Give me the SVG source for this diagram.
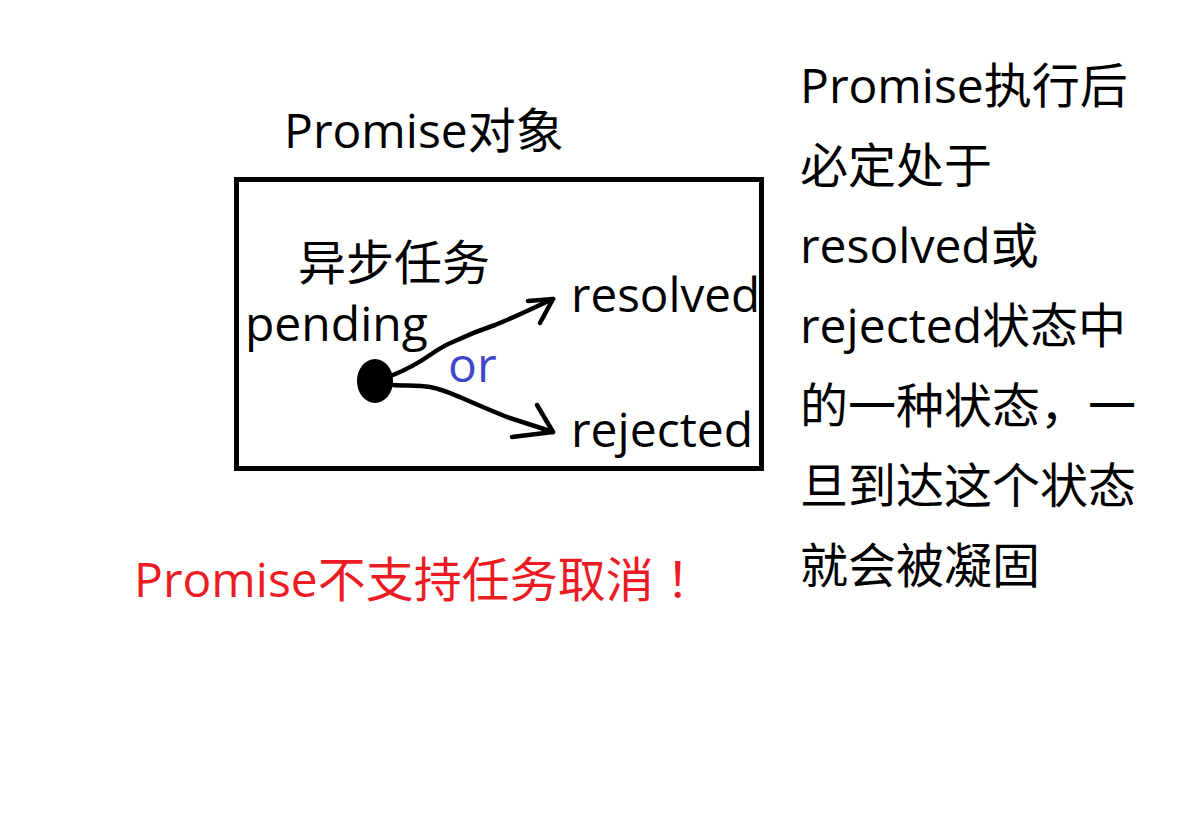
<svg xmlns="http://www.w3.org/2000/svg" width="1201" height="823" viewBox="0 0 1201 823">
<style>
.t{font-family:"Open Sans","Noto Sans CJK SC",sans-serif;font-size:48px;fill:#000}
.fw{font-family:"Noto Sans CJK JP","Noto Sans CJK SC",sans-serif}
.red{fill:#ed1c24}
.blue{fill:#3f48cc}
.ln{fill:none;stroke:#000;stroke-width:4.5;stroke-linecap:round;stroke-linejoin:round}
</style>
<rect width="1201" height="823" fill="#fff"/>
<g id="promise-object">
<text class="t" x="284" y="148">Promise对象</text>
<rect x="236.5" y="179.5" width="525" height="289" fill="none" stroke="#000" stroke-width="5"/>
</g>
<g id="pending">
<text class="t" x="298" y="280">异步任务</text>
<text class="t" x="245" y="341">pending</text>
<ellipse cx="375" cy="381" rx="18" ry="22" fill="#000"/>
</g>
<g id="resolved">
<text class="t" x="571" y="312" textLength="189" lengthAdjust="spacingAndGlyphs">resolved</text>
</g>
<g id="rejected">
<text class="t" x="571" y="447">rejected</text>
</g>
<g id="connectors">
<path class="ln" d="M393,375 C410,368 420,362 430,355 C440,348 445,345 455,341 C470,334 480,330 495,325 C515,317 535,307 553,299"/>
<path class="ln" d="M528,301 L553,299 L540,323"/>
<path class="ln" d="M393,385 C405,386 418,385 430,387 C445,390 452,394 462,398 C478,405 492,411 507,417 C522,422 538,427 553,432"/>
<path class="ln" d="M537,405 L553,432 L512,437"/>
<text class="t blue" x="448" y="382">or</text>
</g>
<g id="note">
<text class="t" x="800" y="103">Promise执行后</text>
<text class="t" x="800" y="183">必定处于</text>
<text class="t" x="800" y="263">resolved或</text>
<text class="t" x="800" y="343">rejected状态中</text>
<text class="t" x="800" y="423">的一种状态，一</text>
<text class="t" x="800" y="503">旦到达这个状态</text>
<text class="t" x="800" y="583">就会被凝固</text>
</g>
<g id="warning">
<text class="t red" x="134" y="597">Promise不支持任务取消<tspan class="fw">！</tspan></text>
</g>
</svg>
